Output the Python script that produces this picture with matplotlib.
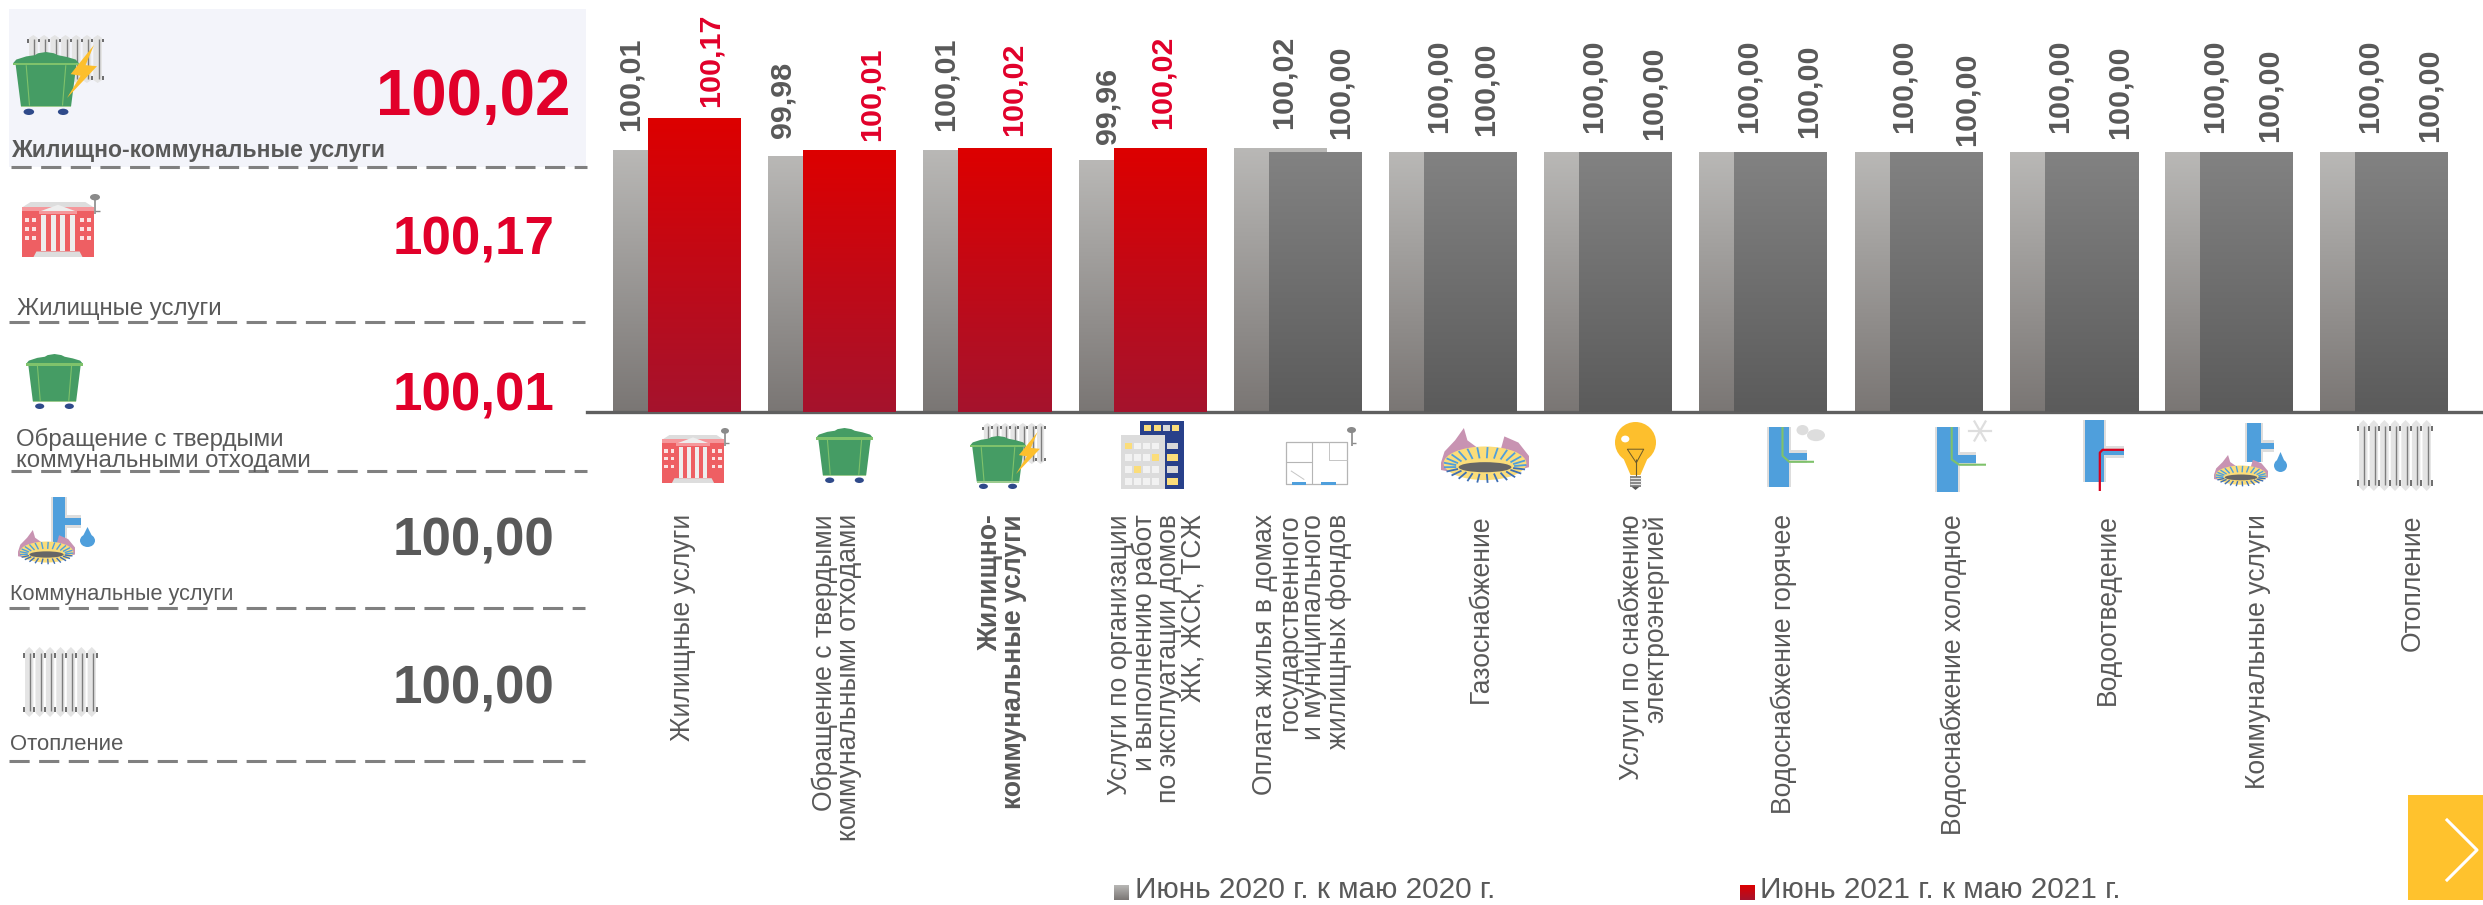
import numpy as np
import matplotlib
matplotlib.use("Agg")
import matplotlib.pyplot as plt
from matplotlib.colors import LinearSegmentedColormap
from matplotlib.patches import Ellipse, Polygon, Rectangle

plt.rcParams['font.family'] = ['Liberation Sans', 'DejaVu Sans']

# данные
categories = [
    "Жилищные услуги",
    "Обращение с твердыми\nкоммунальными отходами",
    "Жилищно-\nкоммунальные услуги",
    "Услуги по организации\nи выполнению работ\nпо эксплуатации домов\nЖК, ЖСК, ТСЖ",
    "Оплата жилья в домах\nгосударственного\nи муниципального\nжилищных фондов",
    "Газоснабжение",
    "Услуги по снабжению\nэлектроэнергией",
    "Водоснабжение горячее",
    "Водоснабжение холодное",
    "Водоотведение",
    "Коммунальные услуги",
    "Отопление",
]
june_2020 = [100.01, 99.98, 100.01, 99.96, 100.02, 100.00, 100.00, 100.00, 100.00, 100.00, 100.00, 100.00]
june_2021 = [100.17, 100.01, 100.02, 100.02, 100.00, 100.00, 100.00, 100.00, 100.00, 100.00, 100.00, 100.00]
legend_labels = ["Июнь 2020 г. к маю 2020 г.", "Июнь 2021 г. к маю 2021 г."]

summary_labels = ["Жилищно-коммунальные услуги", "Жилищные услуги",
                  "Обращение с твердыми\nкоммунальными отходами",
                  "Коммунальные услуги", "Отопление"]
summary_values = [100.02, 100.17, 100.01, 100.00, 100.00]

# раскладка подписей (пиксели)
gray_dx = [-29, -32, -24, -18, 3, 3, 3, 3, 3, 3, 3, 3]
gray_dy = [20, 19, 20, 17, 20, 20, 20, 20, 20, 20, 20, 20]
red_dx = [16, 22, 9, 3, 25, 15, 28, 28, 31, 28, 23, 28]
red_dy = [12, 10, 13, 20, 14, 17, 13, 15, 7, 14, 11, 11]
cat_x = [683, 837, 1002, 1157, 1302, 1481, 1644, 1784, 1954, 2108, 2258, 2413]

W, H = 2483, 905
GRAY_TXT = "#595959"
RED_TXT = "#E1002A"
gray_cm = LinearSegmentedColormap.from_list("g", ["#b9b8b6", "#7a7674"])
dark_cm = LinearSegmentedColormap.from_list("d", ["#828282", "#5b5b5b"])
red_cm = LinearSegmentedColormap.from_list("r", ["#dd0000", "#a5132d"])
grad = np.linspace(0, 1, 256).reshape(-1, 1)


def fmt(v):
    return f"{v:.2f}".replace(".", ",")


def px(size):
    return size * 0.72


fig = plt.figure(figsize=(W / 100, H / 100), dpi=100)

# столбцы
ax_left, ax_base = 587, 412.5
ax = fig.add_axes([ax_left / W, 1 - ax_base / H, (W - ax_left) / W, ax_base / H])
step = 155.2
xlim = ((ax_left - 677) / step, (W - 677) / step)
ylim = (100 - (ax_base - 153) / 200, 100 + 153 / 200)
bar_w, off = 93 / step, 17.5 / step
x = np.arange(len(categories))

for xs, vals, series in ((x - off, june_2020, 0), (x + off, june_2021, 1)):
    bars = ax.bar(xs, vals, bar_w, color="none", zorder=2 + series)
    for rect_, v in zip(bars, vals):
        cm = gray_cm if series == 0 else (red_cm if v > 100 else dark_cm)
        x0 = rect_.get_x()
        ax.imshow(grad, extent=[x0, x0 + bar_w, ylim[0], v], aspect="auto", cmap=cm,
                  zorder=2 + series)

ax.set_xlim(*xlim)
ax.set_ylim(*ylim)
ax.set_xticks([])
ax.set_yticks([])
for s in ("top", "left", "right"):
    ax.spines[s].set_visible(False)
ax.spines["bottom"].set_color("#5f5f5f")
ax.spines["bottom"].set_linewidth(2.4)
ax.patch.set_alpha(0)

for i in range(len(categories)):
    ax.annotate(fmt(june_2020[i]), (x[i] - off, june_2020[i]), xytext=(gray_dx[i], gray_dy[i]),
                textcoords="offset pixels", rotation=90, ha="center", va="bottom",
                fontsize=px(30.5), fontweight="bold", color=GRAY_TXT, zorder=5)
    c = RED_TXT if june_2021[i] > 100 else GRAY_TXT
    ax.annotate(fmt(june_2021[i]), (x[i] + off, june_2021[i]), xytext=(red_dx[i], red_dy[i]),
                textcoords="offset pixels", rotation=90, ha="center", va="bottom",
                fontsize=px(30.5), fontweight="bold", color=c, zorder=5)

# слой в пикселях для панели, иконок и легенды
ov = fig.add_axes([0, 0, 1, 1], zorder=10)
ov.set_xlim(0, W)
ov.set_ylim(H, 0)
ov.axis("off")
ov.patch.set_alpha(0)


def poly(box, pts, color, z=11):
    x0, y0, x1, y1 = box
    p = [(x0 + u * (x1 - x0), y0 + v * (y1 - y0)) for u, v in pts]
    ov.add_patch(Polygon(p, closed=True, fc=color, ec="none", zorder=z))


def rect(box, u0, v0, u1, v1, color, z=11):
    poly(box, [(u0, v0), (u1, v0), (u1, v1), (u0, v1)], color, z)


def oval(box, u, v, ru, rv, color, z=11):
    x0, y0, x1, y1 = box
    ov.add_patch(Ellipse((x0 + u * (x1 - x0), y0 + v * (y1 - y0)), 2 * ru * (x1 - x0),
                         2 * rv * (y1 - y0), fc=color, ec="none", zorder=z))


def seg(box, pts, color, lw=1.0, z=12):
    x0, y0, x1, y1 = box
    ov.plot([x0 + u * (x1 - x0) for u, v in pts], [y0 + v * (y1 - y0) for u, v in pts],
            color=color, lw=lw, zorder=z, solid_capstyle="butt")


def icon_bin(box, z=11):
    poly(box, [(.04, .2), (.96, .2), (.88, .86), (.12, .86)], "#459C64", z)
    poly(box, [(0, .18), (.05, .12), (.2, .07), (.33, .05), (.38, .02), (.5, 0), (.62, .02),
               (.68, .05), (.82, .08), (.95, .12), (1, .18)], "#459C64", z)
    rect(box, 0, .17, 1, .21, "#7FC26B", z)
    rect(box, .12, .85, .88, .88, "#9CCB8F", z)
    seg(box, [(.2, .21), (.25, .85)], "#7FC26B", .8, z + 1)
    seg(box, [(.8, .21), (.75, .85)], "#7FC26B", .8, z + 1)
    oval(box, .24, .95, .08, .05, "#2F4A8A", z)
    oval(box, .76, .95, .08, .05, "#2F4A8A", z)


def icon_radiator(box, n=7, z=11):
    for k in range(n):
        u = (k + .5) / n
        poly(box, [(u - .4 / n, .06), (u, 0), (u + .4 / n, .06), (u + .4 / n, .94), (u, 1),
                   (u - .4 / n, .94)], "#e4e4e4", z)
        seg(box, [(u + .1 / n, .08), (u + .1 / n, .92)], "#7d7d7d", 1.0, z + 1)
        seg(box, [(u + .5 / n, .08), (u + .5 / n, .15)], "#555555", 1.2, z + 1)
        seg(box, [(u + .5 / n, .85), (u + .5 / n, .93)], "#555555", 1.2, z + 1)
    seg(box, [(0, .09), (0, .16)], "#555555", 1.2, z + 1)
    seg(box, [(0, .85), (0, .93)], "#555555", 1.2, z + 1)


def icon_bolt(box, z=14):
    poly(box, [(.9, 0), (.12, .55), (.45, .58), (0, 1), (1, .4), (.62, .38)], "#FDBF2D", z)


def icon_building(box, z=11):
    rect(box, 0, .1, 1, 1, "#EE5F63", z)
    poly(box, [(0, .1), (.12, 0), (.88, 0), (1, .1)], "#dddddd", z)
    rect(box, 0, .09, 1, .16, "#F5989C", z)
    poly(box, [(.25, .17), (.5, .05), (.75, .17)], "#eeeeee", z + 1)
    rect(box, .23, .17, .77, .22, "#F5989C", z + 1)
    for u in (.27, .4, .53, .66):
        rect(box, u, .24, u + .07, .9, "#eeeeee", z + 1)
    poly(box, [(.2, .9), (.8, .9), (.84, 1), (.16, 1)], "#dddddd", z + 1)
    for u in (.07, .17, .83, .93):
        for v in (.3, .46, .62):
            rect(box, u - .03, v, u + .03, v + .07, "#fbe3e3", z + 1)


def icon_key(box, z=11):
    seg(box, [(.5, .3), (.5, 1)], "#8a8a8a", 1.2, z)
    oval(box, .5, .16, .5, .16, "#8a8a8a", z)
    seg(box, [(.5, .85), (1, .85)], "#8a8a8a", 1.0, z)


def icon_burner(box, z=11):
    poly(box, [(0, .62), (.04, .42), (.16, .22), (.26, 0), (.3, .22), (.42, .36), (.55, .42),
               (.68, .38), (.72, .15), (.88, .26), (1, .5), (1, .7), (.5, .9), (0, .75)],
         "#C893B2", z)
    oval(box, .5, .63, .47, .3, "#FBDD7A", z + 1)
    lw = 1.0 if box[2] - box[0] < 70 else 1.3
    for a in np.linspace(0, 2 * np.pi, 26)[:-1]:
        ca, sa = np.cos(a), np.sin(a)
        c = "#3E6FB5" if sa > 0.2 else "#4F9FDC"
        seg(box, [(.5 + .47 * ca, .66 + .32 * sa), (.5 + .33 * ca, .68 + .14 * sa)], c, lw, z + 2)
    oval(box, .5, .7, .3, .09, "#666666", z + 3)


def icon_bulb(box, z=11):
    oval(box, .5, .3, .5, .3, "#FDBF2D", z)
    poly(box, [(.18, .5), (.82, .5), (.62, .78), (.38, .78)], "#FDBF2D", z)
    seg(box, [(.3, .4), (.7, .4), (.52, .6), (.3, .4)], "#6b5a2a", .7, z + 1)
    seg(box, [(.5, .55), (.5, .8)], "#6b5a2a", .8, z + 1)
    rect(box, .36, .8, .64, .95, "#8a8a8a", z)
    for v in (.83, .87, .91):
        seg(box, [(.36, v), (.64, v)], "#e8e8e8", .7, z + 1)
    poly(box, [(.4, .95), (.6, .95), (.5, 1)], "#555555", z)
    oval(box, .25, .25, .1, .05, "#ffffff", z + 1)


def icon_drop(box, z=11):
    poly(box, [(.5, 0), (.78, .42), (.5, .55), (.22, .42)], "#4F9FDC", z)
    oval(box, .5, .68, .5, .32, "#4F9FDC", z)


def icon_pipe(vbox, hbox, z=11):
    shade = (vbox[0] - 2, vbox[1], vbox[2] + 2, vbox[3])
    rect(shade, 0, 0, 1, 1, "#dddddd", z)
    rect((hbox[0], hbox[1] - 3, hbox[2], hbox[3] + 3), 0, 0, 1, 1, "#dddddd", z)
    rect(vbox, 0, 0, 1, 1, "#4F9FDC", z + 1)
    rect(hbox, 0, 0, 1, 1, "#4F9FDC", z + 1)


def icon_plan(box, z=11):
    seg(box, [(0, .05), (1, .05), (1, 1), (0, 1), (0, .05)], "#b5b5b5", .9)
    seg(box, [(.42, .05), (.42, 1)], "#b5b5b5", .8)
    seg(box, [(0, .5), (.42, .5)], "#b5b5b5", .8)
    seg(box, [(.7, .05), (.7, .45), (1, .45)], "#c5c5c5", .7)
    seg(box, [(.08, .7), (.3, .9)], "#c5c5c5", .7)
    rect(box, .1, .96, .32, 1.02, "#4F9FDC", z + 1)
    rect(box, .58, .96, .82, 1.02, "#4F9FDC", z + 1)


def icon_blocks(z=11):
    navy = (1140, 421, 1184, 489)
    front = (1121, 435, 1165, 489)
    rect(navy, 0, 0, 1, 1, "#28408A", z)
    rect(front, 0, 0, 1, 1, "#dcdcdc", z)
    for k in range(4):
        rect(navy, .1 + .21 * k, .06, .26 + .21 * k, .15, "#FBDD7A" if k != 2 else "#d8d8d8", z + 1)
    for r in range(4):
        for k in range(4):
            c = "#FBDD7A" if (r * 2 + k) % 5 == 0 else "#f2f2f2"
            rect(front, .1 + .2 * k, .14 + .22 * r, .26 + .2 * k, .26 + .22 * r, c, z + 1)
        rect((1165, 435, 1184, 489), .1, .14 + .22 * r, .7, .26 + .22 * r, "#FBDD7A" if r % 2 else "#d8d8d8", z + 1)


# иконки панели
ov.add_patch(Rectangle((9, 9), 577, 158, fc="#F3F4FA", ec="none", zorder=1))
icon_radiator((28, 35, 103, 83), 7)
icon_bin((13, 52, 79, 115), 12)
icon_bolt((67, 45, 97, 98))
icon_building((22, 202, 94, 257))
icon_key((90, 194, 100, 214))
icon_bin((26, 354, 83, 409))
icon_pipe((53, 497, 65, 543), (65, 518, 81, 525))
icon_burner((18, 530, 75, 565), 13)
icon_drop((80, 527, 95, 547))
icon_radiator((24, 647, 97, 717), 7)

# иконки под столбцами
icon_building((662, 435, 724, 483))
icon_key((721, 428, 729, 446))
icon_bin((816, 428, 873, 483))
icon_radiator((983, 423, 1045, 464), 7)
icon_bin((970, 436, 1026, 489), 12)
icon_bolt((1016, 432, 1040, 474))
icon_blocks()
icon_plan((1286, 440, 1347, 484))
icon_key((1347, 427, 1356, 446))
icon_burner((1441, 428, 1529, 484))
icon_bulb((1615, 422, 1656, 490))
icon_pipe((1769, 427, 1789, 487), (1789, 453, 1807, 460))
seg((1769, 427, 1814, 487), [(.3, 0), (.3, .48), (.45, .58), (1, .58)], "#7FC26B", 1.5, 14)
oval((1795, 425, 1825, 442), .25, .3, .2, .3, "#dddddd")
oval((1795, 425, 1825, 442), .7, .6, .3, .35, "#dddddd")
icon_pipe((1937, 427, 1958, 492), (1958, 455, 1976, 463))
seg((1937, 427, 1986, 492), [(.3, 0), (.3, .5), (.45, .58), (1, .58)], "#7FC26B", 1.5, 14)
for a in (0, 60, 120):
    dx, dy = 11 * np.cos(np.radians(a)), 11 * np.sin(np.radians(a))
    ov.plot([1980 - dx, 1980 + dx], [431 - dy, 431 + dy], color="#dedede", lw=1.6, zorder=11)
icon_pipe((2085, 420, 2104, 482), (2104, 449, 2124, 455))
seg((2085, 420, 2124, 491), [(.38, 1), (.38, .46), (.45, .42), (1, .42)], "#D8001E", 1.6, 14)
icon_pipe((2247, 423, 2261, 462), (2261, 443, 2274, 449))
icon_burner((2214, 455, 2268, 487), 14)
icon_drop((2274, 452, 2287, 472))
icon_radiator((2358, 420, 2432, 491), 7)

# панель слева
dash_y = [167, 322, 471, 608, 761]
dash_x = [11, 9, 11, 9, 9]
val_x = [376, 393, 393, 393, 393]
val_base = [115, 254, 410, 555, 703]
val_size = [63.5, 53, 53, 53, 53]
lab_x = [11, 17, 16, 10, 10]
lab_base = [157, 315, 467, 600, 750]
lab_size = [23, 24, 24, 21.7, 22.2]

for i, (lab, v) in enumerate(zip(summary_labels, summary_values)):
    ov.plot([dash_x[i], dash_x[i] + 576], [dash_y[i]] * 2, color="#808080", lw=2.2,
            ls=(0, (6.6, 3.1)), zorder=3)
    ov.text(val_x[i], val_base[i], fmt(v), fontsize=px(val_size[i]), fontweight="bold",
            color=RED_TXT if v > 100 else GRAY_TXT, va="baseline", ha="left", zorder=12)
    ov.text(lab_x[i], lab_base[i], lab, fontsize=px(lab_size[i]), color=GRAY_TXT,
            fontweight="bold" if i == 0 else "normal", va="baseline", ha="left",
            linespacing=0.95, zorder=12)

# подписи категорий
for i, cat in enumerate(categories):
    ov.text(cat_x[i], 514, cat, rotation=90, ha="center", va="top", ma="right",
            fontsize=px(26.5), color=GRAY_TXT, fontweight="bold" if i == 2 else "normal",
            linespacing=0.92, zorder=12)

# легенда
for sx, tx, lab, cm in ((1114, 1135, legend_labels[0], gray_cm), (1740, 1760, legend_labels[1], red_cm)):
    ov.imshow(grad, extent=[sx, sx + 15, 900, 885], aspect="auto", cmap=cm, origin="upper", zorder=12)
    ov.text(tx, 898, lab, fontsize=px(29.8), color=GRAY_TXT, va="baseline", ha="left", zorder=12)
ov.set_xlim(0, W)
ov.set_ylim(H, 0)

# кнопка
ov.add_patch(Rectangle((2408, 795), 75, 105, fc="#FFC22D", ec="none", zorder=12))
ov.plot([2447, 2477, 2447], [820, 850, 880], color="white", lw=2.2, zorder=13)

fig.savefig("out.png", dpi=100, facecolor="white")
